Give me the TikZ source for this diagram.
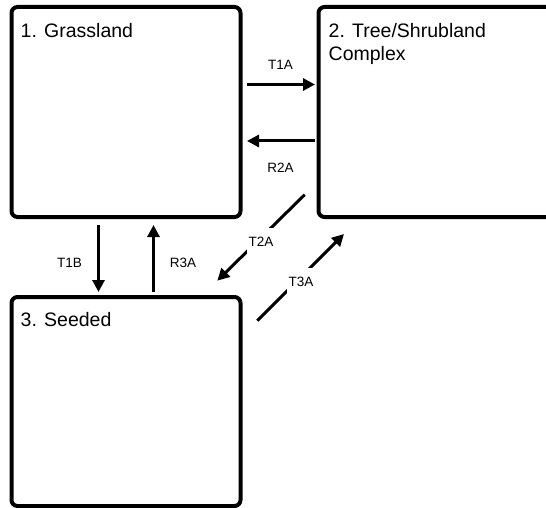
\documentclass[tikz,border=0pt]{standalone}
\usepackage{fontspec}
\setmainfont{Liberation Sans}
\usetikzlibrary{arrows.meta}
\begin{document}
\begin{tikzpicture}[x=1pt,y=-1pt,
  statebox/.style={draw=black, line width=4pt, rounded corners=6pt, rectangle, inner sep=0pt},
  boxtext/.style={font=\fontsize{19.5}{23}\selectfont, inner sep=0pt, align=left},
  arr/.style={line width=3pt, -{Triangle[length=12pt,width=12pt]}},
  lab/.style={font=\fontsize{13.5}{16}\selectfont, inner sep=0pt},
  diaglab/.style={lab, fill=white, minimum width=28pt, minimum height=28pt}]
\useasboundingbox (0,0) rectangle (546,508);
\clip (0,0) rectangle (546,508);
\fill[white] (0,0) rectangle (546,508);
% boxes
\node[statebox, minimum width=229pt, minimum height=210pt] (b1) at (126,112) {};
\node[statebox, minimum width=262pt, minimum height=210pt] (b2) at (449.5,112) {};
\node[statebox, minimum width=229pt, minimum height=209pt] (b3) at (126,401.5) {};
% box texts
\node[boxtext, anchor=base west] (t1) at ([shift={(11,32.5)}]b1.north west) {1. Grassland};
\node[boxtext, anchor=base west] (t2) at ([shift={(12,56)}]b2.north west) {2. Tree/Shrubland\\Complex};
\node[boxtext, anchor=base west] (t3) at ([shift={(11,31.5)}]b3.north west) {3. Seeded};
% arrow end points
\coordinate (a1s) at (247,84.5);
\coordinate (a1e) at (315,84.5);
\coordinate (a2s) at (315,141);
\coordinate (a2e) at (247,141);
\coordinate (a3s) at (98.5,225);
\coordinate (a3e) at (98.5,292);
\coordinate (a4s) at (153.5,292);
\coordinate (a4e) at (153.5,225);
\coordinate (a5s) at (304.7,194.7);
\coordinate (a5e) at (217.3,280.7);
\coordinate (a6s) at (257.3,320.7);
\coordinate (a6e) at (344,234);
% arrows
\draw[arr] (a1s) -- (a1e);
\draw[arr] (a2s) -- (a2e);
\draw[arr] (a3s) -- (a3e);
\draw[arr] (a4s) -- (a4e);
\draw[arr] (a5s) -- (a5e);
\draw[arr] (a6s) -- (a6e);
% labels
\node[lab] (l1) at (280.5,65) {T1A};
\node[lab] (l2) at (280.5,168) {R2A};
\node[lab] (l3) at (69.5,262.5) {T1B};
\node[lab] (l4) at (183,262.5) {R3A};
\node[diaglab] (l5) at (261,242) {T2A};
\node[diaglab] (l6) at (301,282) {T3A};
\end{tikzpicture}
\end{document}
